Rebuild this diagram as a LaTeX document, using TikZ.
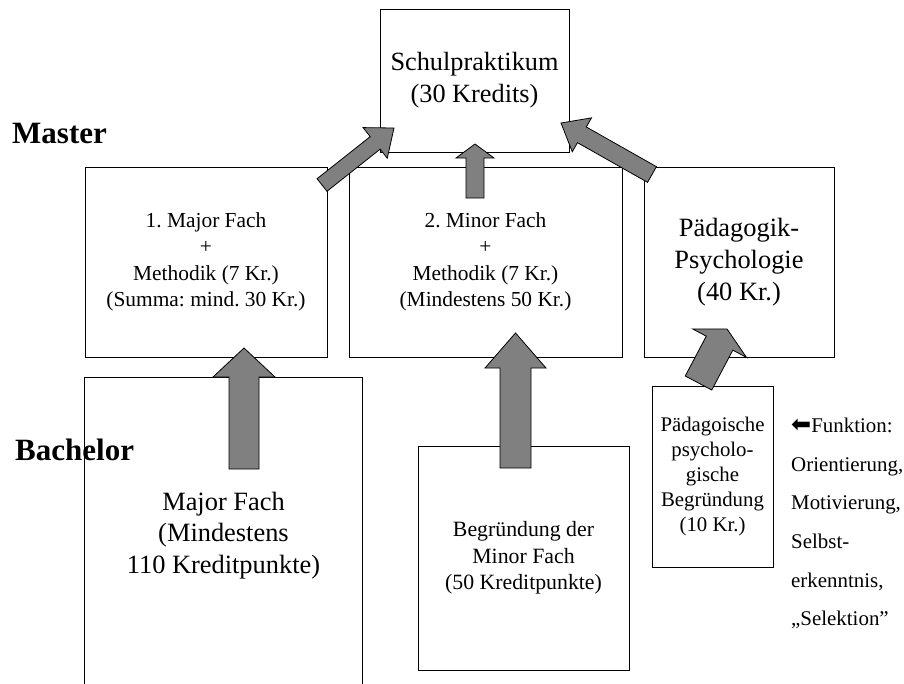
\documentclass[tikz,border=0pt]{standalone}
\usepackage{fontspec}
\setmainfont{Liberation Serif}
\newfontfamily\symfont{DejaVu Sans}
\usetikzlibrary{calc}
\definecolor{arrgray}{HTML}{808080}
\tikzset{
  box/.style={draw=black, line width=1pt, fill=white, inner sep=0pt, align=center},
  blk/.style={fill=arrgray, draw=black, line width=0.8pt, line join=miter},
  lvl/.style={anchor=base west, inner sep=0pt, font=\bfseries\fontsize{31}{36}\selectfont},
}
\newcommand\blockarr[5]{%
  \coordinate (bhb) at ($(#2)!#5!(#1)$);
  \draw[blk] ($(#1)!#3!90:(#2)$) -- ($(bhb)!#3!90:(#2)$) -- ($(bhb)!#4!90:(#2)$) -- (#2)
     -- ($(bhb)!#4!-90:(#2)$) -- ($(bhb)!#3!-90:(#2)$) -- ($(#1)!#3!-90:(#2)$) -- cycle;
}
\begin{document}
\frenchspacing
\begin{tikzpicture}[x=1pt,y=-1pt]
\useasboundingbox (0,0) rectangle (904,683);
\fill[white] (0,0) rectangle (904,683);

% master level
\node[box, minimum width=189pt, minimum height=143pt, font=\fontsize{26.3}{32}\selectfont]
  (S) at (474.5,80.5) {Schulpraktikum\\(30 Kredits)};
\node[box, minimum width=242pt, minimum height=190pt, font=\fontsize{21.4}{26.5}\selectfont]
  (M1) at (206,262) {1. Major Fach\\+\\Methodik (7 Kr.)\\(Summa: mind. 30 Kr.)};
\node[box, minimum width=273pt, minimum height=190pt, font=\fontsize{21.4}{26.5}\selectfont]
  (M2) at (485.5,262) {2. Minor Fach\\+\\Methodik (7 Kr.)\\(Mindestens 50 Kr.)};
\node[box, minimum width=190pt, minimum height=190pt, font=\fontsize{26.4}{32}\selectfont]
  (P) at (739,262) {Pädagogik-\\Psychologie\\(40 Kr.)};

% bachelor level
\node[box, draw=none, minimum width=277pt, minimum height=315pt, font=\fontsize{26.4}{31.5}\selectfont]
  (B1) at (223.5,535.5) {Major Fach\\(Mindestens\\110 Kreditpunkte)};
\draw[line width=1pt] (B1.south west) -- (B1.north west) -- (B1.north east) -- (B1.south east);
\node[box, minimum width=211pt, minimum height=224pt, font=\fontsize{21.8}{26.5}\selectfont]
  (B2) at (523.5,558) {Begründung der\\Minor Fach\\(50 Kreditpunkte)};
\node[box, minimum width=121pt, minimum height=181pt, font=\fontsize{20.8}{25}\selectfont]
  (B3) at (712.5,476.5) {Pädagoische\\psycholo-\\gische\\Begründung\\(10 Kr.)};

% level labels
\node[lvl] (master) at (12,143) {Master};
\node[lvl] (bachelor) at (15,460) {Bachelor};

% function list
\node[anchor=north west, inner sep=0pt, align=left, font=\fontsize{20.9}{38.6}\selectfont]
  (func) at (791,418) {{\symfont\fontsize{24}{24}\selectfont ⬅}Funktion:\\Orientierung,\\Motivierung,\\Selbst-\\erkenntnis,\\„Selektion”};

% block arrows
\coordinate (a1t) at (244,469);   \coordinate (a1h) at (244,348);
\coordinate (a2t) at (515.5,468); \coordinate (a2h) at (515.5,333);
\coordinate (a3t) at (698.5,383); \coordinate (a3h) at (727,329);
\coordinate (a4t) at (322,185);   \coordinate (a4h) at (394,128);
\coordinate (a5t) at (475,198);   \coordinate (a5h) at (475,144);
\coordinate (a6t) at (652,174.5); \coordinate (a6h) at (561,123);
\blockarr{a1t}{a1h}{15pt}{31pt}{29pt}
\blockarr{a2t}{a2h}{15.5pt}{30.5pt}{35pt}
\blockarr{a3t}{a3h}{15pt}{30.5pt}{16pt}
\blockarr{a4t}{a4h}{8pt}{19.5pt}{24pt}
\blockarr{a5t}{a5h}{9pt}{19pt}{14pt}
\blockarr{a6t}{a6h}{9pt}{19.5pt}{24pt}
\end{tikzpicture}
\end{document}
